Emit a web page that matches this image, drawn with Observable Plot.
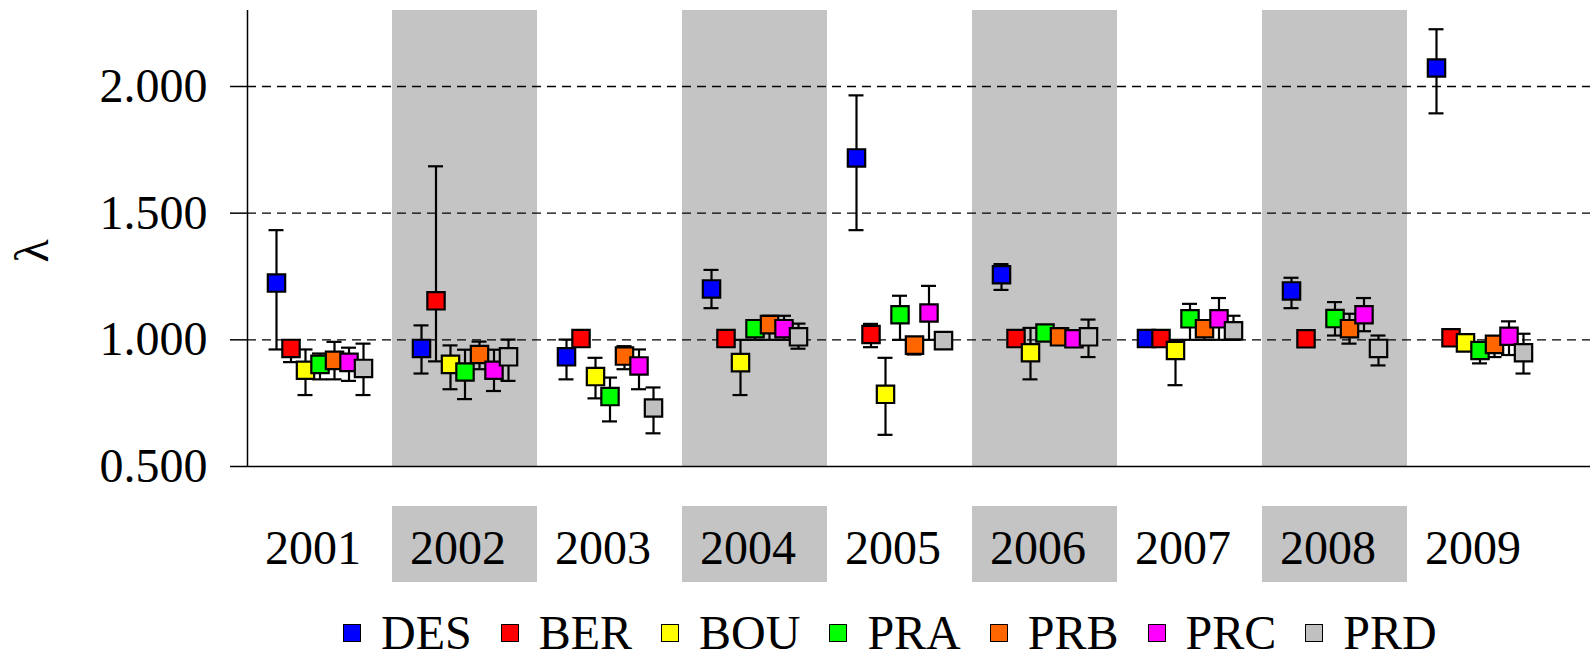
<!DOCTYPE html>
<html>
<head>
<meta charset="utf-8">
<script src="https://cdn.jsdelivr.net/npm/d3@7"></script>
<script src="https://cdn.jsdelivr.net/npm/@observablehq/plot@0.6"></script>
<style>
  html, body { margin: 0; padding: 0; background: #fff; overflow: hidden; }
  body { width: 1592px; height: 660px; font-family: "Liberation Serif", "Times New Roman", serif; }
  #legend { display: flex; align-items: center; padding-left: 343px; padding-top: 11px; height: 44px; line-height: 44px; font-size: 48px; color: #000; }
  .item { display: flex; align-items: center; margin-right: 29px; }
  .sw { width: 16px; height: 16px; border: 1.5px solid #000; margin-right: 20px; }
</style>
</head>
<body>
<div id="chart"></div>
<div id="years"></div>
<div id="legend"></div>
<script>
// ---------- data ----------
const years = ["2001","2002","2003","2004","2005","2006","2007","2008","2009"];
const shadedYears = ["2002","2004","2006","2008"];
const seriesNames = ["DES","BER","BOU","PRA","PRB","PRC","PRD"];
const seriesColors = ["#0000ff","#ff0000","#ffff00","#00ff00","#ff6600","#ff00ff","#c0c0c0"];
const yTicks = [0.5, 1.0, 1.5, 2.0];

const DES    = [1.224, 0.966, 0.933, 1.201, 1.718, 1.257, 1.005, 1.193, 2.073];
const DES_lo = [0.962, 0.867, 0.844, 1.125, 1.433, 1.197, 0.990, 1.125, 1.894];
const DES_hi = [1.433, 1.057, 1.001, 1.276, 1.965, 1.299, 1.020, 1.245, 2.226];

const BER    = [0.966, 1.154, 1.005, 1.005, 1.021, 1.005, 1.005, 1.004, 1.008];
const BER_lo = [0.912, 0.915, 0.990, 0.990, 0.971, 0.990, 0.990, 0.990, 0.990];
const BER_hi = [0.990, 1.685, 1.020, 1.020, 1.063, 1.020, 1.020, 1.020, 1.020];

const BOU    = [0.880, 0.903, 0.855, 0.910, 0.785, 0.949, 0.958, null, 0.988];
const BOU_lo = [0.782, 0.805, 0.769, 0.782, 0.625, 0.844, 0.821, null, 0.970];
const BOU_hi = [0.962, 0.978, 0.929, 1.000, 0.929, 1.047, 1.000, null, 1.000];

const PRA    = [0.903, 0.873, 0.776, 1.044, 1.099, 1.027, 1.083, 1.084, 0.958];
const PRA_lo = [0.844, 0.766, 0.678, 1.000, 1.000, 1.000, 1.000, 1.017, 0.907];
const PRA_hi = [0.946, 0.961, 0.851, 1.070, 1.174, 1.050, 1.142, 1.149, 0.970];

const PRB    = [0.919, 0.942, 0.936, 1.060, 0.979, 1.012, 1.044, 1.044, 0.982];
const PRB_lo = [0.844, 0.884, 0.884, 1.000, 0.942, 0.990, 1.000, 0.985, 0.932];
const PRB_hi = [0.992, 0.993, 0.975, 1.095, 1.000, 1.030, 1.070, 1.103, 1.000];

const PRC    = [0.911, 0.880, 0.897, 1.044, 1.106, 1.004, 1.083, 1.099, 1.014];
const PRC_lo = [0.838, 0.798, 0.805, 1.000, 1.000, 0.985, 1.000, 1.034, 0.940];
const PRC_hi = [0.969, 0.961, 0.962, 1.095, 1.213, 1.020, 1.165, 1.165, 1.073];

const PRD    = [0.887, 0.933, 0.731, 1.012, 0.997, 1.012, 1.036, 0.966, 0.949];
const PRD_lo = [0.782, 0.838, 0.631, 0.965, 0.980, 0.932, 1.000, 0.899, 0.867];
const PRD_hi = [0.985, 1.001, 0.812, 1.064, 1.010, 1.080, 1.095, 1.017, 1.024];

// ---------- build table ----------
const vals = [DES, BER, BOU, PRA, PRB, PRC, PRD];
const los  = [DES_lo, BER_lo, BOU_lo, PRA_lo, PRB_lo, PRC_lo, PRD_lo];
const his  = [DES_hi, BER_hi, BOU_hi, PRA_hi, PRB_hi, PRC_hi, PRD_hi];

const rows = [];
seriesNames.forEach((s, si) => {
  years.forEach((yr, gi) => {
    const v = vals[si][gi];
    if (v == null) return;
    rows.push({series: s, year: yr, x: gi + 0.2 + 0.1 * si, v, lo: los[si][gi], hi: his[si][gi]});
  });
});
const bands = shadedYears.map(y => ({i: years.indexOf(y)}));

const W = 1592, ML = 247, MR = 2;
const xDomain = [0, (W - ML - MR) / 145];
const cap = 7.5 / 145;
const FONT = "Liberation Serif";
const GRAY = "#c4c4c4";

const chart = Plot.plot({
  width: W, height: 476,
  marginLeft: ML, marginRight: MR, marginTop: 10, marginBottom: 10,
  style: {fontFamily: FONT, background: "#fff", overflow: "visible"},
  x: {domain: xDomain, axis: null},
  y: {domain: [0.5, 2.3], axis: null},
  color: {domain: seriesNames, range: seriesColors},
  marks: [
    Plot.rect(bands, {x1: d => d.i, x2: d => d.i + 1, fill: GRAY}),
    Plot.ruleY(yTicks.filter(t => t > 0.5), {stroke: "#000", strokeWidth: 1.4, strokeDasharray: "9,6"}),
    Plot.ruleY([0.5], {stroke: "#000", strokeWidth: 1.5}),
    Plot.ruleX([0], {stroke: "#000", strokeWidth: 1.5}),
    Plot.axisY({ticks: yTicks, tickFormat: d3.format(".3f"), tickSize: 17, tickPadding: 23,
                fontSize: 48, label: null, stroke: "#000", strokeWidth: 1.5, fill: "#000"}),
    Plot.text(["λ"], {frameAnchor: "left", dx: -215, dy: 24, rotate: -90, fontSize: 48, fill: "#000"}),
    Plot.ruleX(rows, {x: "x", y1: "lo", y2: "hi", stroke: "#000", strokeWidth: 2.2}),
    Plot.ruleY(rows, {y: "lo", x1: d => d.x - cap, x2: d => d.x + cap, stroke: "#000", strokeWidth: 2.2}),
    Plot.ruleY(rows, {y: "hi", x1: d => d.x - cap, x2: d => d.x + cap, stroke: "#000", strokeWidth: 2.2}),
    Plot.dot(rows, {x: "x", y: "v", symbol: "square", r: 9.8, fill: "series", stroke: "#000", strokeWidth: 2.2})
  ]
});
document.getElementById("chart").appendChild(chart);

const yearRow = Plot.plot({
  width: W, height: 124,
  marginLeft: ML, marginRight: MR, marginTop: 0, marginBottom: 0,
  style: {fontFamily: FONT, background: "#fff", overflow: "visible"},
  x: {domain: xDomain, axis: null},
  marks: [
    Plot.rect(bands, {x1: d => d.i, x2: d => d.i + 1, insetTop: 30, insetBottom: 18, fill: GRAY}),
    Plot.text(years, {x: (d, i) => i + 0.5, frameAnchor: "top", dy: 72, dx: -7, lineAnchor: "middle", fontSize: 48, fill: "#000"})
  ]
});
document.getElementById("years").appendChild(yearRow);

const legend = document.getElementById("legend");
seriesNames.forEach((s, i) => {
  const item = document.createElement("div");
  item.className = "item";
  const sw = document.createElement("div");
  sw.className = "sw";
  sw.style.background = seriesColors[i];
  const t = document.createElement("span");
  t.textContent = s;
  item.appendChild(sw); item.appendChild(t);
  legend.appendChild(item);
});
</script>
</body>
</html>
